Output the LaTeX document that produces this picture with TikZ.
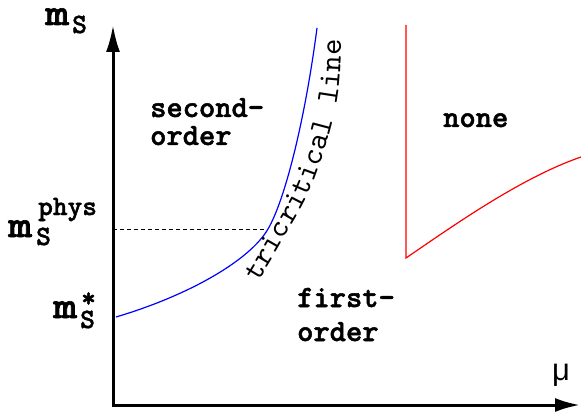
\documentclass[tikz,border=0pt]{standalone}
\usepackage{fontspec}
\newfontfamily\musans{Liberation Sans}
\newfontfamily\lmbold{lmmonolt10-bold.otf}[FakeBold=1.6]
\newfontfamily\lmreg{lmmono10-regular.otf}
\usetikzlibrary{arrows.meta,decorations.text}
\begin{document}
\begin{tikzpicture}[x=1pt,y=1pt,
  lbl/.style={inner sep=0pt, anchor=base west, font=\lmbold\fontsize{31}{31}\selectfont},
  mbig/.style={inner sep=0pt, anchor=base west, font=\lmbold\fontsize{38}{38}\selectfont},
  mscript/.style={inner sep=0pt, anchor=base west, font=\lmbold\fontsize{28}{28}\selectfont},
  axisline/.style={line width=3pt, line join=miter, {Latex[length=27pt,width=14pt]}-{Latex[length=25pt,width=14pt]}},
  guide/.style={dashed, dash pattern=on 4pt off 3pt, line width=0.6pt},
  tcline/.style={blue, line width=1.2pt},
  noneline/.style={red, line width=1.2pt},
]
\useasboundingbox (0,0) rectangle (581,413);
% axes
\coordinate (O) at (113,8);
\coordinate (ytop) at (113,388);
\coordinate (xend) at (580,8);
\draw[axisline] (ytop) -- (O) -- (xend);
% dashed guide
\coordinate (dA) at (113,184);
\coordinate (tc) at (268,184);
\draw[guide] (dA) -- (tc);
% tricritical line
\coordinate (b0) at (116,96);
\coordinate (b1) at (317,385);
\draw[tcline] (b0) .. controls (190,118) and (250,153) .. (tc) .. controls (285,213) and (305,293) .. (b1);
% red boundary
\coordinate (r0) at (406,388);
\coordinate (r1) at (406,155);
\coordinate (r2) at (581,256);
\draw[noneline] (r0) -- (r1) .. controls (450,185) and (520,235) .. (r2);
% region labels
\node[lbl] (so1) at (150,296) {second-};
\node[lbl] (so2) at (150,268) {order};
\node[lbl] (fo1) at (297,106) {first-};
\node[lbl] (fo2) at (297,72) {order};
\node[lbl] (none) at (443,286) {none};
% axis labels
\node[mbig] (m1) at (45,388) {\scalebox{1.2}[1]{m}};
\node[mscript] (s1) at (72,380) {S};
\node[mbig] (m2) at (8,176) {\scalebox{1.2}[1]{m}};
\node[mscript] (s2) at (36,168) {S};
\node[mscript] (p2) at (38,198) {phys};
\node[mbig] (m3) at (53,95) {\scalebox{1.2}[1]{m}};
\node[mscript] (s3) at (80,85) {S};
\node[mscript] (st3) at (81,106) {*};
\node[inner sep=0pt, anchor=base west, font=\musans\fontsize{31}{31}\selectfont] (mu) at (552,33) {μ};
% text along the tricritical line
\path[decorate, decoration={text along path, text={|\lmreg\fontsize{31}{31}\selectfont|tricritical line}, text align=left}]
  plot[smooth, tension=0.6] coordinates {(258,131) (283,173) (313,230) (337,313) (341,385)};
\end{tikzpicture}
\end{document}
